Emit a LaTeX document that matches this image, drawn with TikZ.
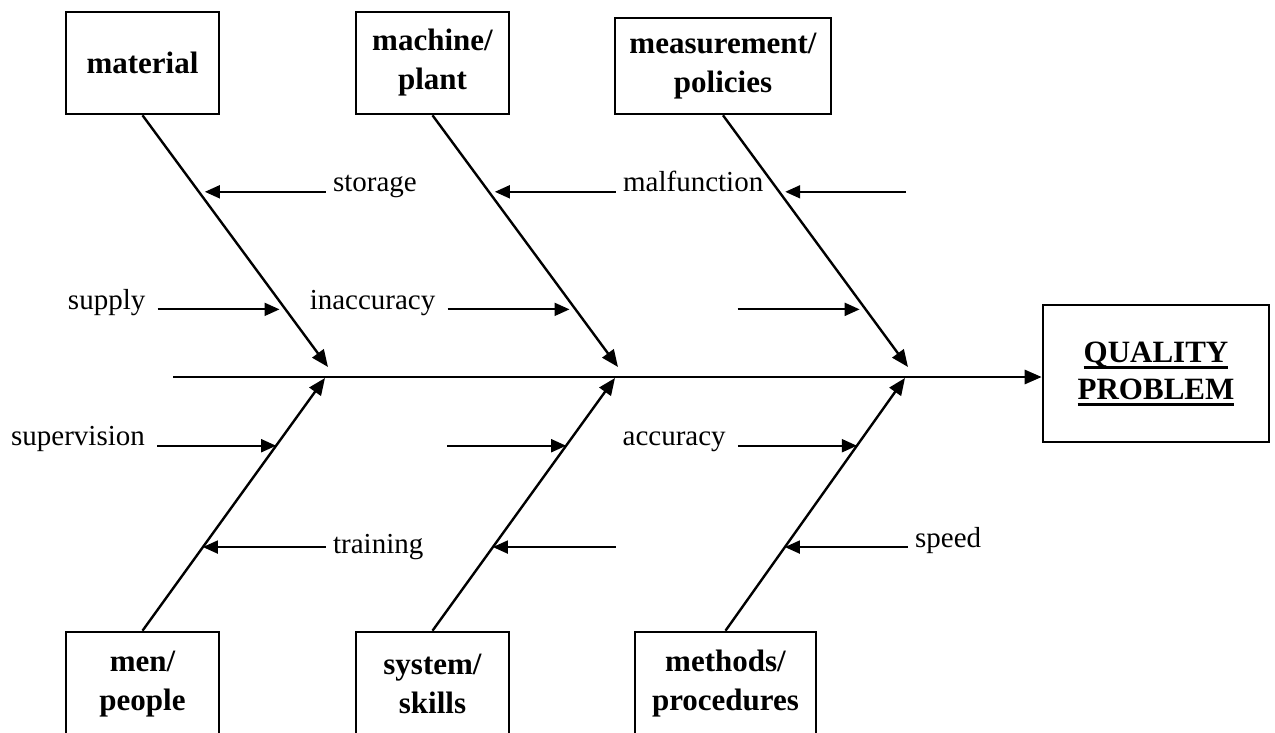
\documentclass[tikz,border=0pt]{standalone}
\usepackage{fontspec}
\setmainfont{Liberation Serif}
\usetikzlibrary{arrows.meta,positioning,calc}
\newcommand\probline[1]{\setbox0=\hbox{#1}\rlap{\rule[-6.5pt]{\wd0}{3pt}}\box0}

\begin{document}
\begin{tikzpicture}[x=1pt,y=-1pt,
    cat/.style={draw, line width=2.6pt, align=center, inner sep=0pt, font=\fontsize{31}{39}\selectfont\bfseries},
    lbl/.style={font=\fontsize{29}{35}\selectfont, inner xsep=7pt, anchor=base west},
    lblr/.style={font=\fontsize{29}{35}\selectfont, inner xsep=12pt, anchor=base east},
    bone/.style={line width=2.4pt, -{Triangle[length=17pt,width=14pt]}},
    sub/.style={line width=2pt, -{Triangle[length=15pt,width=13pt]}},
    subup/.style={sub, shorten >=6pt}]
    \useasboundingbox (0,0) rectangle (1275,733);

    \node[cat, minimum width=153pt, minimum height=102pt] (mat) at (142.5,63) {material};
    \node[cat, minimum width=153pt, minimum height=102pt] (mach) at (432.5,63) {machine/\\plant};
    \node[cat, minimum width=216pt, minimum height=96pt] (meas) at (723,66) {measurement/\\policies};
    \node[cat, minimum width=153pt, minimum height=104pt] (men) at (142.5,684) {men/\\people};
    \node[cat, minimum width=153pt, minimum height=104pt] (sys) at (432.5,684) {system/\\skills};
    \node[cat, minimum width=181pt, minimum height=104pt] (meth) at (725.5,684) {methods/\\procedures};
    \node[cat, minimum width=226pt, minimum height=137pt] (qp) at (1156,373.5) {\probline{QUALITY}\\[-2pt]\probline{PROBLEM}};

    % spine
    \coordinate (tail) at (173,377);
    \draw[line width=2.8pt, -{Triangle[length=17pt,width=14pt]}] (tail) -- (tail -| qp.west);

    % main bones
    \coordinate (t1) at (328,367);
    \coordinate (t2) at (618,367);
    \coordinate (t3) at (908,367);
    \coordinate (b1) at (325,378);
    \coordinate (b2) at (615,378);
    \coordinate (b3) at (905,378);
    \draw[bone] (mat.south) -- (t1);
    \draw[bone] (mach.south) -- (t2);
    \draw[bone] (meas.south) -- (t3);
    \draw[bone] (men.north) -- (b1);
    \draw[bone] (sys.north) -- (b2);
    \draw[bone] (meth.north) -- (b3);

    % causes, upper half
    \coordinate (c1) at ($(mat.south)!0.304!(t1)$);
    \coordinate (c2) at ($(mach.south)!0.304!(t2)$);
    \coordinate (c3) at ($(meas.south)!0.304!(t3)$);
    \coordinate (c4) at ($(mat.south)!0.771!(t1)$);
    \coordinate (c5) at ($(mach.south)!0.771!(t2)$);
    \coordinate (c6) at ($(meas.south)!0.771!(t3)$);
    \node[lbl] (storage) at ($(c1)+(127,0)$) {storage};
    \node[lbl] (malf) at ($(c2)+(127,0)$) {malfunction};
    \coordinate (u3) at ($(c3)+(127,0)$);
    \node[lblr] (supply) at ($(c4)+(-128,0)$) {supply};
    \node[lblr] (inacc) at ($(c5)+(-128,0)$) {inaccuracy};
    \coordinate (u6) at ($(c6)+(-128,0)$);
    \draw[subup] (storage.base west) -- (c1);
    \draw[subup] (malf.base west) -- (c2);
    \draw[subup] (u3) -- (c3);
    \draw[subup] (supply.base east) -- (c4);
    \draw[subup] (inacc.base east) -- (c5);
    \draw[subup] (u6) -- (c6);

    % causes, lower half
    \coordinate (d1) at ($(men.north)!0.732!(b1)$);
    \coordinate (d2) at ($(sys.north)!0.732!(b2)$);
    \coordinate (d3) at ($(meth.north)!0.732!(b3)$);
    \coordinate (e1) at ($(men.north)!0.331!(b1)$);
    \coordinate (e2) at ($(sys.north)!0.331!(b2)$);
    \coordinate (e3) at ($(meth.north)!0.331!(b3)$);
    \node[lblr] (superv) at ($(d1)+(-119,0)$) {supervision};
    \coordinate (v2) at ($(d2)+(-119,0)$);
    \node[lblr] (accur) at ($(d3)+(-119,0)$) {accuracy};
    \node[lbl, anchor=west] (train) at ($(e1)+(123,0)$) {training};
    \coordinate (w2) at ($(e2)+(123,0)$);
    \node[lbl] (speed) at ($(e3)+(123,0)$) {speed};
    \draw[sub] (superv.base east) -- (d1);
    \draw[sub] (v2) -- (d2);
    \draw[sub] (accur.base east) -- (d3);
    \draw[sub] (train.west) -- (e1);
    \draw[sub] (w2) -- (e2);
    \draw[sub] (speed.base west) -- (e3);
\end{tikzpicture}
\end{document}
